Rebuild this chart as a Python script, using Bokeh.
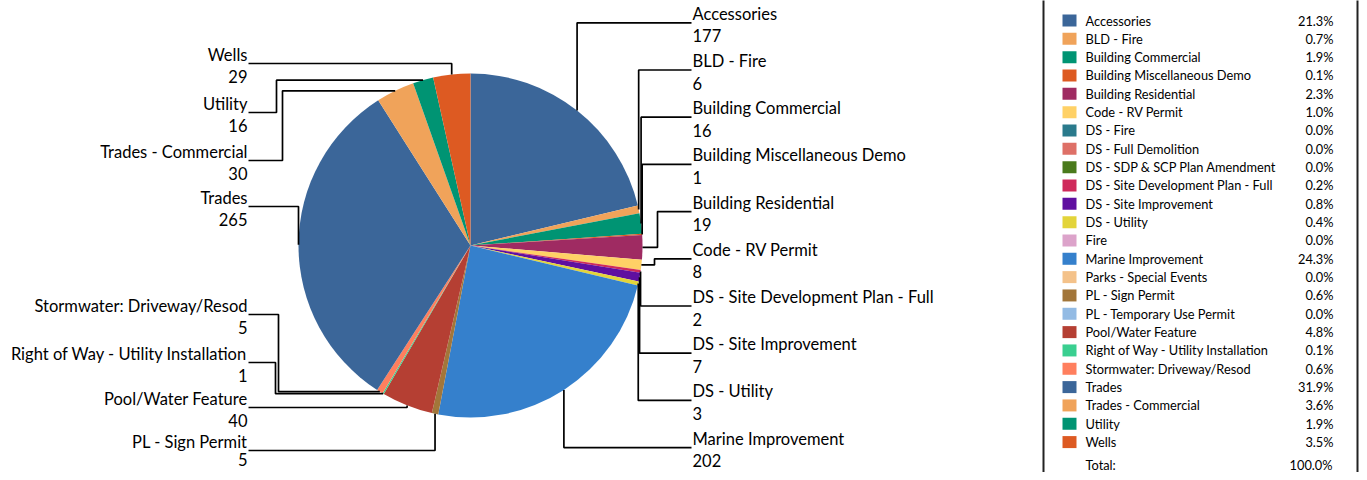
import math
from bokeh.plotting import figure
from bokeh.models import Range1d
from bokeh.core.properties import value
from bokeh.embed import file_html
from bokeh.resources import INLINE

# ---------------- data ----------------
categories = [
    "Accessories", "BLD - Fire", "Building Commercial", "Building Miscellaneous Demo",
    "Building Residential", "Code - RV Permit", "DS - Fire", "DS - Full Demolition",
    "DS - SDP & SCP Plan Amendment", "DS - Site Development Plan - Full",
    "DS - Site Improvement", "DS - Utility", "Fire", "Marine Improvement",
    "Parks - Special Events", "PL - Sign Permit", "PL - Temporary Use Permit",
    "Pool/Water Feature", "Right of Way - Utility Installation",
    "Stormwater: Driveway/Resod", "Trades", "Trades - Commercial", "Utility", "Wells",
]
counts = [177, 6, 16, 1, 19, 8, 0, 0, 0, 2, 7, 3, 0, 202, 0, 5, 0, 40, 1, 5, 265, 30, 16, 29]
colors = [
    "#3B6699", "#F0A35A", "#009473", "#DD5A22", "#9F2B62", "#FFD166", "#2A7A8C", "#DE7067",
    "#4A7A1C", "#CF2A5B", "#5F0FA0", "#E3D43A", "#DCA3CA", "#3580CC", "#F4C28A", "#A2763A",
    "#93BBE4", "#B53F33", "#3ACF90", "#FF7F5E", "#3B6699", "#F0A35A", "#009473", "#DD5A22",
]

right_labels = ["Accessories", "BLD - Fire", "Building Commercial", "Building Miscellaneous Demo",
                "Building Residential", "Code - RV Permit", "DS - Site Development Plan - Full",
                "DS - Site Improvement", "DS - Utility", "Marine Improvement"]
left_labels = ["Wells", "Utility", "Trades - Commercial", "Trades",
               "Stormwater: Driveway/Resod", "Right of Way - Utility Installation",
               "Pool/Water Feature", "PL - Sign Permit"]

# ---------------- layout ----------------
W, H = 1359, 472
FONT = "Lato"
CX, CY, R = 470, 245, 172          # pixel coords of the pie (y down)
def Y(ry):                          # pixel y (down) -> data y (up)
    return H - ry

right_x = 692
right_line_x = 691
right_name_y = [13.3 + i * 47.2 for i in range(len(right_labels))]
right_elbow = [None, None, None, None, 657, 654, None, None, None, None]

left_x = 247
left_line_x = 248
left_name_y = [54, 103, 151, 197, 305, 353, 398, 441]
left_value_gap = [22, 22, 22, 22, 22, 22, 22, 18]
left_elbow = [None, 276, 282, None, 278, 275, None, None]

p = figure(width=W, height=H, output_backend="svg", toolbar_location=None,
           x_range=Range1d(0, W), y_range=Range1d(0, H), min_border=0)
p.axis.visible = False
p.grid.visible = False
p.outline_line_color = None
p.background_fill_color = "white"

total = sum(counts)
cum = 0
mid = {}
for cat, v, c in zip(categories, counts, colors):
    f0 = cum / total
    cum += v
    f1 = cum / total
    mid[cat] = (f0 + f1) / 2
    if v == 0:
        continue
    p.wedge(x=CX, y=Y(CY), radius=R,
            start_angle=math.pi / 2 - 2 * math.pi * f0,
            end_angle=math.pi / 2 - 2 * math.pi * f1,
            direction="clock", fill_color=c, line_color=None)

def anchor(cat):
    t = 2 * math.pi * mid[cat]
    return CX + R * math.sin(t), CY - R * math.cos(t)

def leader(lx, ly, elbow, cat):
    sx, sy = anchor(cat)
    if elbow is None:
        xs = [lx, sx, sx]
        ys = [ly, ly, sy]
    else:
        xs = [lx, elbow, elbow, sx]
        ys = [ly, ly, sy, sy]
    p.line(xs, [Y(v) for v in ys], line_color="black", line_width=1.7)

fs = "16.5px"
for cat, ny, el in zip(right_labels, right_name_y, right_elbow):
    leader(right_line_x, ny + 9, el, cat)
    v = counts[categories.index(cat)]
    p.text(x=[right_x, right_x], y=[Y(ny), Y(ny + 22)], text=[cat, str(v)],
           text_font=value(FONT), text_font_size=fs, text_color="black",
           text_align="left", text_baseline="middle")

for cat, ny, gap, el in zip(left_labels, left_name_y, left_value_gap, left_elbow):
    leader(left_line_x, ny + 9, el, cat)
    v = counts[categories.index(cat)]
    p.text(x=[left_x, left_x], y=[Y(ny), Y(ny + gap)], text=[cat, str(v)],
           text_font=value(FONT), text_font_size=fs, text_color="black",
           text_align="right", text_baseline="middle")

# ---------------- legend table ----------------
p.quad(left=1043, right=1357, bottom=Y(495), top=Y(-20), fill_color=None,
       line_color="#222222", line_width=2)
row_y = [20 + i * 18.33 for i in range(len(categories))]
p.rect(x=[1069] * len(categories), y=[Y(v) for v in row_y], width=14, height=12,
       fill_color=colors, line_color=None)
lfs = "12.8px"
p.text(x=[1085] * len(categories), y=[Y(v) for v in row_y], text=categories,
       text_font=value(FONT), text_font_size=lfs, text_color="black",
       text_align="left", text_baseline="middle")
pcts = ["%.1f%%" % (v / total * 100) for v in counts]
p.text(x=[1333] * len(categories), y=[Y(v) for v in row_y], text=pcts,
       text_font=value(FONT), text_font_size=lfs, text_color="black",
       text_align="right", text_baseline="middle")
p.text(x=[1085], y=[Y(464)], text=["Total:"],
       text_font=value(FONT), text_font_size=lfs, text_color="black",
       text_align="left", text_baseline="middle")
p.text(x=[1332], y=[Y(464)], text=["%.1f%%" % (sum(counts) / total * 100)],
       text_font=value(FONT), text_font_size=lfs, text_color="black",
       text_align="right", text_baseline="middle")

open("out.html", "w").write(file_html(p, INLINE))
